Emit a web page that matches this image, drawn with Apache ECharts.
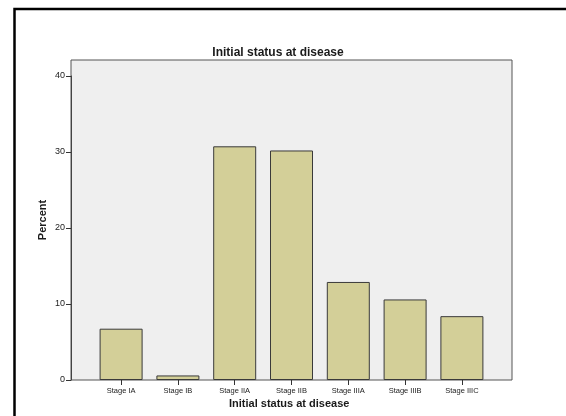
<!DOCTYPE html>
<html>
<head>
<meta charset="utf-8">
<script src="https://cdn.jsdelivr.net/npm/echarts@6/dist/echarts.min.js"></script>
<style>
html,body{margin:0;padding:0;background:#fff;}
#c{width:566px;height:416px;}
</style>
</head>
<body>
<div id="c"></div>
<script>
var categories = ['Stage IA', 'Stage IB', 'Stage IIA', 'Stage IIB', 'Stage IIIA', 'Stage IIIB', 'Stage IIIC'];
var percentValues = [6.75, 0.6, 30.75, 30.2, 12.9, 10.6, 8.4];
var yTicks = [0, 10, 20, 30, 40];
var chartTitle = 'Initial status at disease';
var xTitle = 'Initial status at disease';
var yTitle = 'Percent';

var FONT = '"Liberation Sans", Arial, sans-serif';
var chart = echarts.init(document.getElementById('c'), null, {renderer: 'canvas'});

var plotLeft = 71, plotTop = 60, plotW = 441, plotH = 320;
var catStep = 56.8;
var barsW = catStep * categories.length;
var barsLeft = plotLeft + (plotW - barsW) / 2;
var tickTop = 76;

chart.setOption({
  animation: false,
  backgroundColor: '#ffffff',
  title: {
    text: chartTitle,
    left: 273, top: 42, textAlign: 'center',
    textStyle: {fontFamily: FONT, fontSize: 12, fontWeight: 'bold', color: '#1a1a1a'}
  },
  graphic: [
    {type: 'rect', shape: {x: 14.5, y: 9, width: 700, height: 600},
     style: {fill: 'none', stroke: '#000', lineWidth: 2.5}, z: 100},
    {type: 'text', left: 229, top: 398,
     style: {text: xTitle, font: 'bold 11px ' + FONT, fill: '#1a1a1a'}},
    {type: 'text', x: 43, y: 220, rotation: Math.PI / 2, originX: 0, originY: 0,
     style: {text: yTitle, font: 'bold 11px ' + FONT, fill: '#1a1a1a', textAlign: 'center', textVerticalAlign: 'middle'}}
  ],
  grid: [
    {left: plotLeft, top: plotTop, width: plotW, height: plotH, show: true,
     backgroundColor: '#efefef', borderColor: '#555', borderWidth: 1},
    {left: plotLeft, top: tickTop, width: plotW, height: plotTop + plotH - tickTop},
    {left: barsLeft, top: tickTop, width: barsW, height: plotTop + plotH - tickTop}
  ],
  xAxis: [
    {gridIndex: 0, type: 'value', show: false, min: 0, max: 1},
    {gridIndex: 1, type: 'value', show: false, min: 0, max: 1},
    {gridIndex: 2, type: 'category', data: categories,
     axisLine: {show: false},
     axisTick: {show: true, alignWithLabel: true, length: 5, lineStyle: {color: '#333', width: 1}},
     axisLabel: {fontFamily: FONT, fontSize: 7.5, color: '#222', margin: 7, interval: 0},
     splitLine: {show: false}}
  ],
  yAxis: [
    {gridIndex: 0, type: 'value', show: false, min: 0, max: 1},
    {gridIndex: 1, type: 'value', min: yTicks[0], max: yTicks[yTicks.length - 1], interval: 10,
     axisLine: {show: true, lineStyle: {color: '#444', width: 1}},
     axisTick: {show: true, length: 5, lineStyle: {color: '#333', width: 1}},
     axisLabel: {fontFamily: FONT, fontSize: 9, color: '#222', margin: 6},
     splitLine: {show: false}},
    {gridIndex: 2, type: 'value', show: false, min: yTicks[0], max: yTicks[yTicks.length - 1]}
  ],
  series: [{
    type: 'bar',
    xAxisIndex: 2, yAxisIndex: 2,
    data: percentValues,
    barWidth: 43,
    itemStyle: {color: '#d3cf98', borderColor: '#3a3a3a', borderWidth: 1}
  }]
});
</script>
</body>
</html>
